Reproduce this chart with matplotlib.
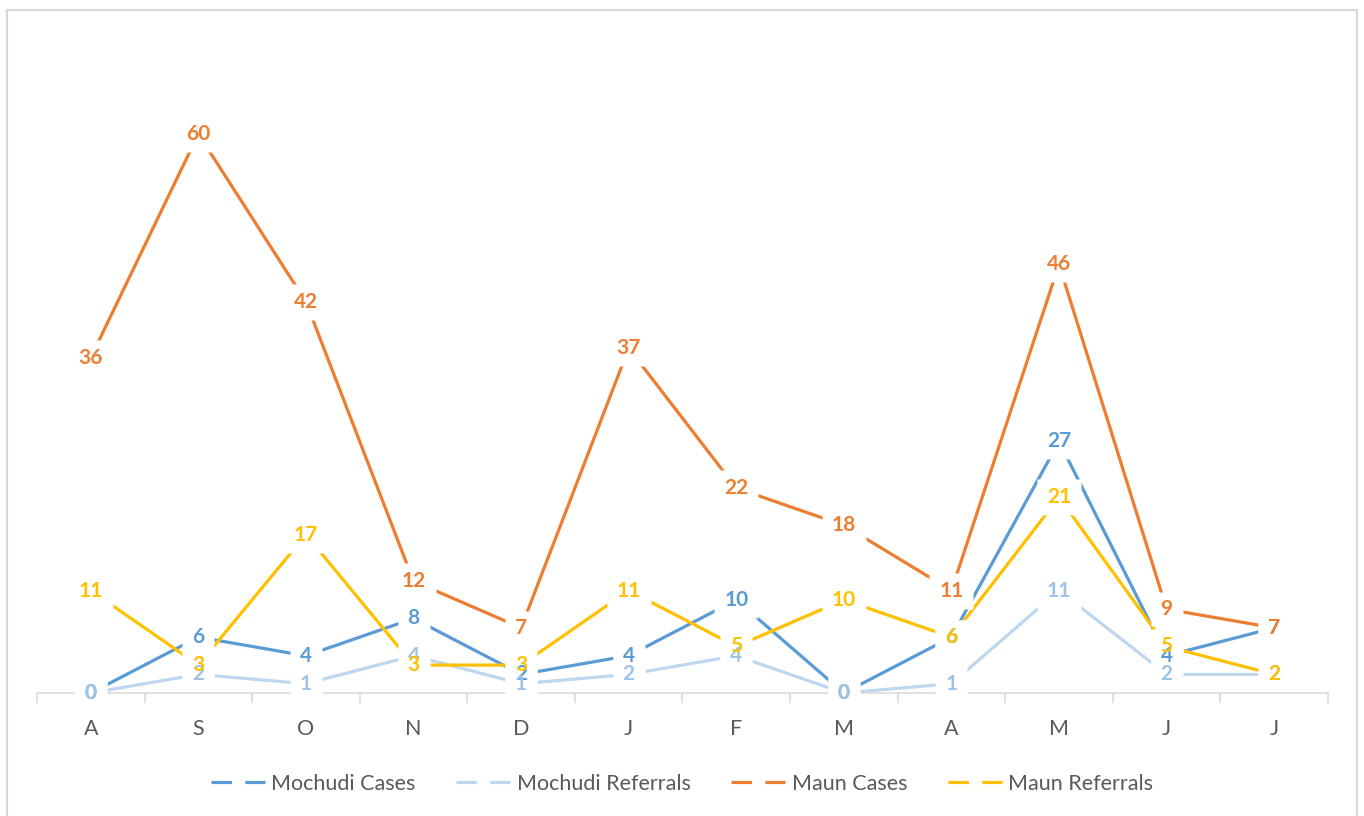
import matplotlib
matplotlib.use("Agg")
import matplotlib.pyplot as plt
from matplotlib.lines import Line2D
from matplotlib.patches import Rectangle

plt.rcParams["font.family"] = ["Lato", "DejaVu Sans"]

months = ["A", "S", "O", "N", "D", "J", "F", "M", "A", "M", "J", "J"]
mochudi_cases = [0, 6, 4, 8, 2, 4, 10, 0, 6, 27, 4, 7]
mochudi_referrals = [0, 2, 1, 4, 1, 2, 4, 0, 1, 11, 2, 2]
maun_cases = [36, 60, 42, 12, 7, 37, 22, 18, 11, 46, 9, 7]
maun_referrals = [11, 3, 17, 3, 3, 11, 5, 10, 6, 21, 5, 2]

# (name, values, line colour, label colour)
series = [
    ("Mochudi Cases", mochudi_cases, "#5B9BD5", "#5B9BD5"),
    ("Mochudi Referrals", mochudi_referrals, "#BDD7EE", "#9DC3E6"),
    ("Maun Cases", maun_cases, "#ED7D31", "#ED7D31"),
    ("Maun Referrals", maun_referrals, "#FFC000", "#FFC000"),
]

fig = plt.figure(figsize=(13.64, 8.16), dpi=100)
ax = fig.add_axes([0.0271, 0.1507, 0.9465, 0.7993])

x = list(range(len(months)))
for name, vals, lc, tc in series:
    ax.plot(x, vals, color=lc, lw=2.3, zorder=2, solid_capstyle="butt")

# excel style data labels: white boxes first (they cut the lines),
# then all the numbers on top so overlapping labels stay readable
box1 = [(-17, -18), (17, -18), (17, 18), (-17, 18)]   # one digit
box2 = [(-22, -18), (22, -18), (22, 18), (-22, 18)]   # two digits
for name, vals, lc, tc in series:
    for xi, v in zip(x, vals):
        if v < 10:
            ax.plot(xi, v, ls="none", marker=box1, ms=34 * 0.72,
                    mfc="white", mec="none", zorder=3)
        else:
            ax.plot(xi, v, ls="none", marker=box2, ms=44 * 0.72,
                    mfc="white", mec="none", zorder=3)
for name, vals, lc, tc in series:
    for xi, v in zip(x, vals):
        ax.text(xi, v, str(v), ha="center", va="center", fontsize=15,
                fontweight="bold", color=tc, zorder=4)

ax.set_xlim(-0.5, len(months) - 0.5)
ax.set_ylim(0, 70)
ax.set_yticks([])
for s in ["left", "right", "top"]:
    ax.spines[s].set_visible(False)
ax.spines["bottom"].set_color("#D9D9D9")
ax.spines["bottom"].set_linewidth(1.1)

ax.set_xticks([i - 0.5 for i in range(len(months) + 1)])
ax.set_xticklabels([])
ax.tick_params(axis="x", which="major", length=7, width=1.1, color="#D9D9D9")
ax.set_xticks(x, minor=True)
ax.set_xticklabels(months, minor=True)
ax.tick_params(axis="x", which="minor", length=0, pad=19, labelsize=15.5,
               labelcolor="#595959")

handles = [Line2D([], [], color=lc, lw=2.3, dashes=(6.4, 4.2))
           for name, vals, lc, tc in series]
fig.legend(handles, [s[0] for s in series], loc="center", ncol=4,
           bbox_to_anchor=(0.5, 1 - 784 / 816), frameon=False, fontsize=15.5,
           labelcolor="#595959", handlelength=2.5, handletextpad=0.3,
           columnspacing=1.9)

fig.patches.append(Rectangle((7 / 1364, -0.05), 1350 / 1364, 1.05 - 10 / 816,
                             transform=fig.transFigure, fill=False,
                             edgecolor="#D9D9D9", lw=1.5))

fig.savefig("out.png", dpi=100)
